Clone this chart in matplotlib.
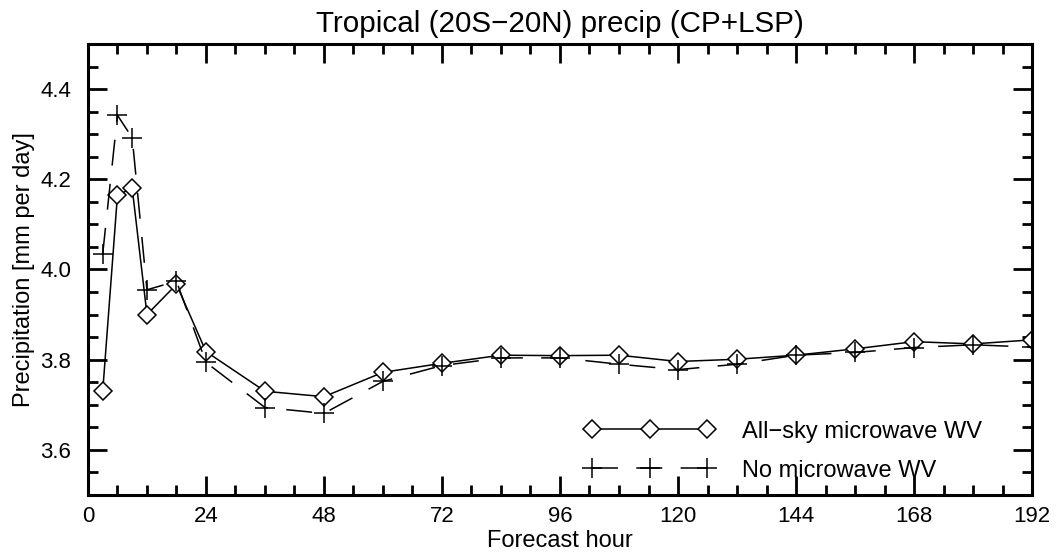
import matplotlib
matplotlib.use("Agg")
import matplotlib.pyplot as plt
from matplotlib.ticker import MultipleLocator

plt.rcParams['font.family'] = ['Liberation Sans', 'DejaVu Sans']

# forecast hours and tropical mean precip (mm/day)
hours = [3, 6, 9, 12, 18, 24, 36, 48, 60, 72, 84, 96, 108, 120, 132, 144, 156, 168, 180, 192]
allsky = [3.73, 4.165, 4.18, 3.90, 3.967, 3.818, 3.73, 3.718, 3.772, 3.792, 3.810, 3.809,
          3.810, 3.796, 3.801, 3.810, 3.824, 3.840, 3.835, 3.844]
nomw = [4.035, 4.342, 4.292, 3.955, 3.974, 3.794, 3.694, 3.681, 3.752, 3.787, 3.804, 3.804,
        3.790, 3.778, 3.790, 3.810, 3.816, 3.827, 3.833, 3.828]

fig = plt.figure(figsize=(10.56, 5.56), dpi=100)
ax = fig.add_axes([0.0833, 0.1097, 0.894, 0.8112])

ax.plot(hours, allsky, color='black', lw=1.1, marker='D', ms=9, mfc='white',
        mec='black', mew=1.1, label='All\u2212sky microwave WV')
ax.plot(hours, nomw, color='black', lw=1.1, dashes=(17, 12), marker='+', ms=14,
        mew=1.1, label='No microwave WV')

ax.set_xlim(0, 192)
ax.set_ylim(3.5, 4.5)
ax.xaxis.set_major_locator(MultipleLocator(24))
ax.xaxis.set_minor_locator(MultipleLocator(6))
ax.yaxis.set_major_locator(MultipleLocator(0.2))
ax.yaxis.set_minor_locator(MultipleLocator(0.05))
ax.yaxis.set_major_formatter(plt.FormatStrFormatter('%.1f'))
ax.tick_params(which='both', direction='in', top=True, right=True, labelsize=16, width=2)
ax.tick_params(which='major', length=14)
ax.tick_params(which='minor', length=7)
ax.tick_params(axis='x', which='major', pad=8)
ax.tick_params(axis='y', which='major', pad=12)
for s in ax.spines.values():
    s.set_linewidth(2.2)

ax.set_title('Tropical (20S\u221220N) precip (CP+LSP)', fontsize=21.3, pad=8.5)
ax.set_xlabel('Forecast hour', fontsize=17, labelpad=2)
ax.set_ylabel('Precipitation [mm per day]', fontsize=17, labelpad=4)

ax.legend(loc='upper left', bbox_to_anchor=(0.5265, 0.165), frameon=False,
          numpoints=3, handlelength=5.47, handletextpad=1.19, labelspacing=0.72,
          fontsize=17, borderpad=0, borderaxespad=0)

fig.savefig('out.png', dpi=100)
